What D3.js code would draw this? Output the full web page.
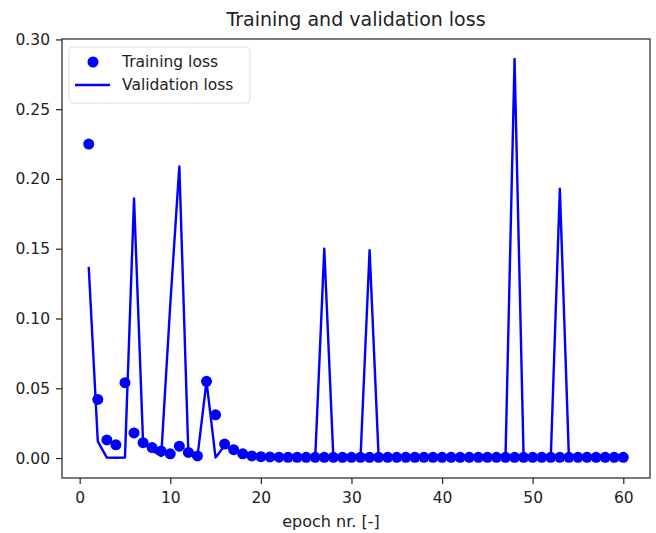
<!DOCTYPE html>
<html>
<head>
<meta charset="utf-8">
<script src="https://cdn.jsdelivr.net/npm/d3@7"></script>
<style>
  body { margin: 0; background: #fff; }
  text { font-family: "DejaVu Sans", sans-serif; fill: #222; }
</style>
</head>
<body>
<script>
// Data
let epochs = d3.range(1, 61);

let trainingLoss = [
    0.225, 0.042, 0.013, 0.0095, 0.054, 0.018, 0.011, 0.0075, 0.005, 0.003,
    0.0085, 0.004, 0.0015, 0.055, 0.031, 0.010, 0.006, 0.003, 0.0015, 0.001,
    0.0008, 0.0006, 0.0005, 0.0005, 0.0005, 0.0005, 0.0005, 0.0005, 0.0005, 0.0005,
    0.0005, 0.0005, 0.0005, 0.0005, 0.0005, 0.0005, 0.0005, 0.0005, 0.0005, 0.0005,
    0.0005, 0.0005, 0.0005, 0.0005, 0.0005, 0.0005, 0.0005, 0.0005, 0.0005, 0.0005,
    0.0005, 0.0005, 0.0005, 0.0005, 0.0005, 0.0005, 0.0005, 0.0005, 0.0005, 0.0005
];

let validationLoss = [
    0.137, 0.012, 0.0003, 0.0002, 0.0003, 0.186, 0.011, 0.0055, 0.0014, 0.11,
    0.209, 0.0026, 0.001, 0.055, 0.0003, 0.009, 0.005, 0.002, 0.001, 0.0005,
    0.0003, 0.0003, 0.0003, 0.0003, 0.0003, 0.0003, 0.150, 0.0003, 0.0003, 0.0003,
    0.0003, 0.149, 0.0003, 0.0003, 0.0003, 0.0003, 0.0003, 0.0003, 0.0003, 0.0003,
    0.0003, 0.0003, 0.0003, 0.0003, 0.0003, 0.0003, 0.0003, 0.286, 0.0003, 0.0003,
    0.0003, 0.0003, 0.193, 0.0003, 0.0003, 0.0003, 0.0003, 0.0003, 0.0003, 0.0003
];

let xTicks = [0, 10, 20, 30, 40, 50, 60];
let yTicks = [0.00, 0.05, 0.10, 0.15, 0.20, 0.25, 0.30];

// Size of the page and of the plot box
let w = 656;
let h = 533;
let plotLeft = 62, plotRight = 650, plotTop = 39, plotBottom = 478;

let svg = d3.select("body")
    .append("svg")
    .attr("width", w)
    .attr("height", h);

// Scales (matplotlib style 5% margins)
let x = d3.scaleLinear().domain([-1.95, 62.95]).range([plotLeft, plotRight]);
let y = d3.scaleLinear().domain([-0.0143, 0.3003]).range([plotBottom, plotTop]);

// Axes
let xAxis = d3.axisBottom(x).tickValues(xTicks).tickFormat(d3.format("d"))
    .tickSizeInner(6).tickSizeOuter(0).tickPadding(8);
let yAxis = d3.axisLeft(y).tickValues(yTicks).tickFormat(d3.format(".2f"))
    .tickSizeInner(6).tickSizeOuter(0).tickPadding(6);

let gx = svg.append("g")
    .attr("transform", "translate(0," + plotBottom + ")")
    .call(xAxis);
let gy = svg.append("g")
    .attr("transform", "translate(" + plotLeft + ",0)")
    .call(yAxis);

[gx, gy].forEach(function(g) {
    g.select(".domain").remove();
    g.selectAll(".tick line").attr("stroke", "#222").attr("stroke-width", 1.2);
    g.selectAll(".tick text").style("font-size", "15.5px").attr("fill", "#222");
});

// Plot box (all four spines)
svg.append("rect")
    .attr("x", plotLeft)
    .attr("y", plotTop)
    .attr("width", plotRight - plotLeft)
    .attr("height", plotBottom - plotTop)
    .attr("fill", "none")
    .attr("stroke", "#222")
    .attr("stroke-width", 1.2);

// Validation loss line
let line = d3.line()
    .x(function(d, i) { return x(epochs[i]); })
    .y(function(d) { return y(d); });

svg.append("path")
    .datum(validationLoss)
    .attr("d", line)
    .attr("fill", "none")
    .attr("stroke", "blue")
    .attr("stroke-width", 2.4)
    .attr("stroke-linejoin", "round");

// Training loss dots
svg.selectAll("circle.train")
    .data(trainingLoss)
    .enter()
    .append("circle")
    .attr("class", "train")
    .attr("cx", function(d, i) { return x(epochs[i]); })
    .attr("cy", function(d) { return y(d); })
    .attr("r", 5.5)
    .attr("fill", "blue");

// Title and axis label
svg.append("text")
    .attr("x", (plotLeft + plotRight) / 2)
    .attr("y", 26)
    .attr("text-anchor", "middle")
    .style("font-size", "19px")
    .text("Training and validation loss");

svg.append("text")
    .attr("x", 331)
    .attr("y", 527)
    .attr("text-anchor", "middle")
    .style("font-size", "16px")
    .text("epoch nr. [-]");

// Legend
let legend = svg.append("g");

legend.append("rect")
    .attr("x", 69)
    .attr("y", 47)
    .attr("width", 181)
    .attr("height", 56)
    .attr("rx", 4)
    .attr("fill", "white")
    .attr("fill-opacity", 0.8)
    .attr("stroke", "#ddd");

legend.append("circle")
    .attr("cx", 93)
    .attr("cy", 62)
    .attr("r", 5.5)
    .attr("fill", "blue");

legend.append("line")
    .attr("x1", 75)
    .attr("x2", 110)
    .attr("y1", 85)
    .attr("y2", 85)
    .attr("stroke", "blue")
    .attr("stroke-width", 2.4);

legend.append("text")
    .attr("x", 122)
    .attr("y", 67)
    .style("font-size", "15.5px")
    .text("Training loss");

legend.append("text")
    .attr("x", 122)
    .attr("y", 90)
    .style("font-size", "15.5px")
    .text("Validation loss");
</script>
</body>
</html>
